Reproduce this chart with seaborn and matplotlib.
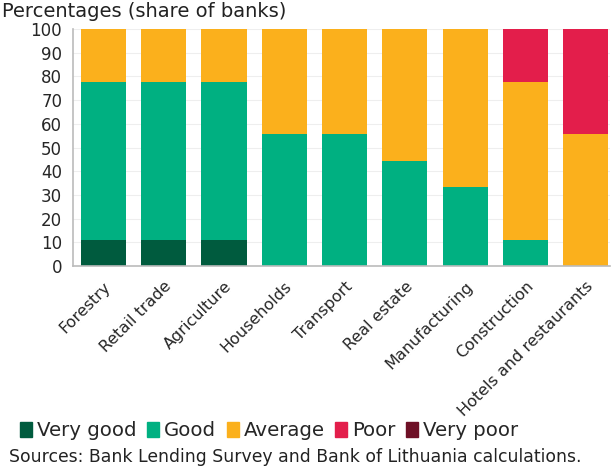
import numpy as np
import pandas as pd
import matplotlib
matplotlib.use("Agg")
import matplotlib.pyplot as plt
import seaborn as sns

# Share of banks (%) by rating, per sector
sectors = ["Forestry", "Retail trade", "Agriculture", "Households", "Transport",
           "Real estate", "Manufacturing", "Construction", "Hotels and restaurants"]
very_good = [11.1, 11.1, 11.1, 0, 0, 0, 0, 0, 0]
good = [66.7, 66.7, 66.7, 55.6, 55.6, 44.4, 33.3, 11.1, 0]
average = [22.2, 22.2, 22.2, 44.4, 44.4, 55.6, 66.7, 66.7, 55.6]
poor = [0, 0, 0, 0, 0, 0, 0, 22.2, 44.4]
very_poor = [0, 0, 0, 0, 0, 0, 0, 0, 0]

ratings = ["Very good", "Good", "Average", "Poor", "Very poor"]
colors = ["#005b3e", "#00b081", "#fbb01c", "#e31e4b", "#6e1026"]

df = pd.DataFrame({"Very good": very_good, "Good": good, "Average": average,
                   "Poor": poor, "Very poor": very_poor}, index=sectors)
cum = df.cumsum(axis=1)

sns.set_style("white")
plt.rcParams["font.family"] = ["DejaVu Sans"]

fig = plt.figure(figsize=(6.11, 4.67), dpi=100)
ax = fig.add_axes([0.12, 0.43, 0.878, 0.508])

# draw cumulative totals from the top rating down so they stack visually
for name, col in reversed(list(zip(ratings, colors))):
    sns.barplot(x=sectors, y=cum[name].values, color=col, width=0.75,
                saturation=1, ax=ax, linewidth=0)

ax.set_ylim(0, 100)
ax.set_yticks(range(0, 101, 10))
ax.set_xlim(-0.5, 8.4)
ax.yaxis.grid(True, color="#eeeeee", linewidth=0.8)
ax.set_axisbelow(True)
for s in ["top", "right"]:
    ax.spines[s].set_visible(False)
for s in ["left", "bottom"]:
    ax.spines[s].set_color("#bbbbbb")
    ax.spines[s].set_linewidth(1.2)
ax.tick_params(axis="y", labelsize=12, length=0, pad=8)
ax.tick_params(axis="x", labelsize=11.5, length=0, pad=9)
plt.setp(ax.get_xticklabels(), rotation=45, ha="right", rotation_mode="anchor")

fig.text(0.003, 1 - 17 / 467, "Percentages (share of banks)", fontsize=14,
         va="baseline", color="#222222")

handles = [plt.Rectangle((0, 0), 1, 1, color=c) for c in colors]
fig.legend(handles, ratings, loc="lower left", bbox_to_anchor=(0.033, 0.057),
           ncol=5, frameon=False, fontsize=14.2, handlelength=0.6,
           handleheight=0.8, handletextpad=0.25, columnspacing=0.55,
           borderaxespad=0, borderpad=0)

fig.text(0.015, 0.01, "Sources: Bank Lending Survey and Bank of Lithuania calculations.",
         fontsize=12.4, color="#222222")

fig.savefig("out.png", dpi=100)
